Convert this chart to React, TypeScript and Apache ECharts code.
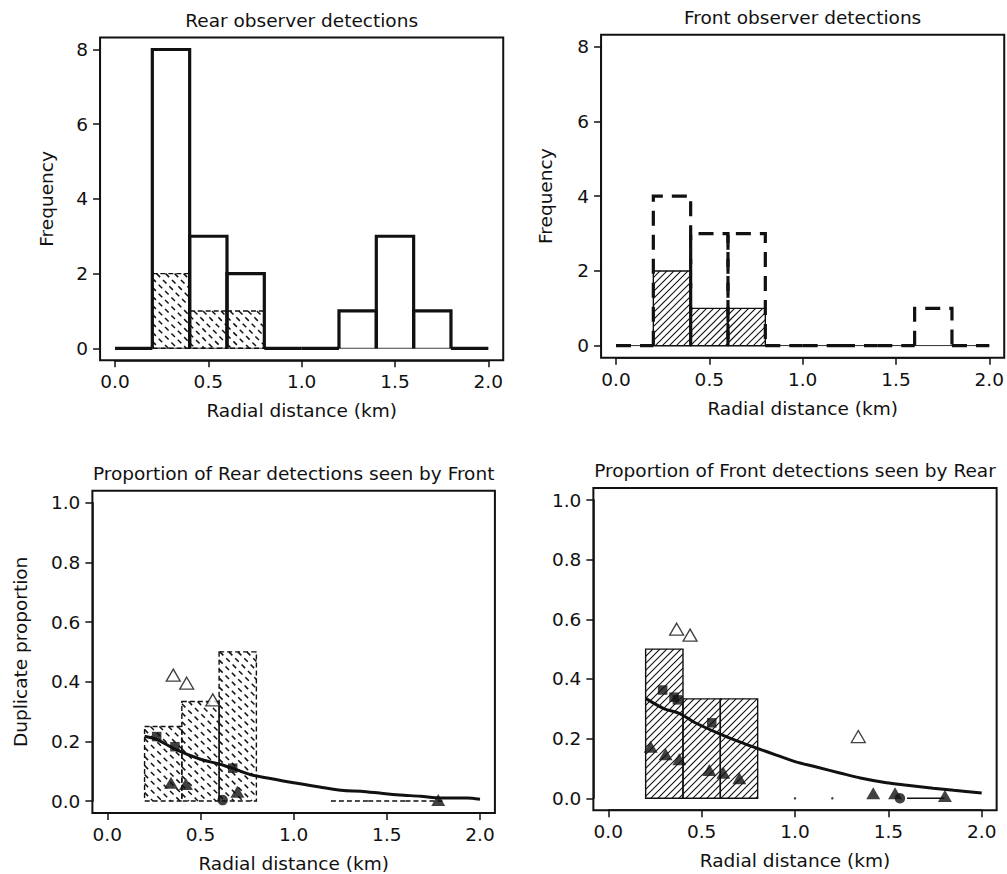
import React, { useEffect, useRef } from "react";
import * as echarts from "echarts";

// ---------------- data ----------------
const binEdges = [0, 0.2, 0.4, 0.6, 0.8, 1.0, 1.2, 1.4, 1.6, 1.8, 2.0];
const rearCounts = [0, 8, 3, 2, 0, 0, 1, 3, 1, 0];
const rearSeenByFront = [0, 2, 1, 1, 0, 0, 0, 0, 0, 0];
const frontCounts = [0, 4, 3, 3, 0, 0, 0, 0, 1, 0];
const frontSeenByRear = [0, 2, 1, 1, 0, 0, 0, 0, 0, 0];

// Proportion of Rear detections seen by Front (fitted curve + points)
const rearCurveX = [0.2, 0.27, 0.36, 0.5, 0.6, 0.68, 0.77, 0.86, 1.0, 1.14, 1.27, 1.36, 1.48, 1.57, 1.68, 1.79, 1.93, 2.0];
const rearCurveY = [0.217, 0.205, 0.175, 0.14, 0.124, 0.108, 0.088, 0.077, 0.061, 0.047, 0.035, 0.033, 0.025, 0.02, 0.016, 0.01, 0.01, 0.006];
const rearSquaresX = [0.265, 0.363, 0.673];
const rearSquaresY = [0.216, 0.182, 0.11];
const rearTrianglesX = [0.342, 0.422, 0.698, 1.776];
const rearTrianglesY = [0.061, 0.057, 0.031, 0.003];
const rearCirclesX = [0.619];
const rearCirclesY = [0.003];
const rearOpenTrianglesX = [0.354, 0.426, 0.566];
const rearOpenTrianglesY = [0.422, 0.395, 0.339];

// Proportion of Front detections seen by Rear
const frontCurveX = [0.2, 0.3, 0.38, 0.46, 0.6, 0.7, 0.8, 0.9, 1.0, 1.12, 1.24, 1.35, 1.49, 1.6, 1.74, 1.85, 2.0];
const frontCurveY = [0.335, 0.3, 0.285, 0.255, 0.215, 0.19, 0.167, 0.145, 0.123, 0.104, 0.085, 0.068, 0.052, 0.044, 0.034, 0.027, 0.018];
const frontSquaresX = [0.291, 0.352, 0.37, 0.554];
const frontSquaresY = [0.363, 0.339, 0.33, 0.253];
const frontTrianglesX = [0.227, 0.307, 0.38, 0.541, 0.616, 0.702, 1.419, 1.536, 1.803];
const frontTrianglesY = [0.173, 0.148, 0.131, 0.095, 0.086, 0.067, 0.017, 0.017, 0.008];
const frontCirclesX = [1.562];
const frontCirclesY = [0];
const frontOpenTrianglesX = [0.366, 0.438, 1.339];
const frontOpenTrianglesY = [0.567, 0.547, 0.207];
const frontEmptyDotsX = [1.0, 1.2];
const frontEmptyDotsY = [0, 0];

const titles = [
  "Rear observer detections",
  "Front observer detections",
  "Proportion of Rear detections seen by Front",
  "Proportion of Front detections seen by Rear",
];
const yNames = ["Frequency", "Frequency", "Duplicate proportion", ""];
const xName = "Radial distance (km)";

// ---------------- layout ----------------
const FONT = "DejaVu Sans";
const FS = 18.5;
const grids = [
  { left: 115, top: 49.5, width: 373.3, height: 298.8 },
  { left: 616, top: 46.7, width: 373.3, height: 299 },
  { left: 107.3, top: 502.7, width: 372.7, height: 298.3 },
  { left: 608.3, top: 500, width: 373.4, height: 298.3 },
];
const yLabelX = [46.7, 545, 20.7, 0];

const zip = (xs: number[], ys: number[]) => xs.map((x, i) => [x, ys[i]]);
const bins = (vals: number[]) => vals.map((v, i) => [binEdges[i], binEdges[i + 1], v]);
const ratioBins = (seen: number[], tot: number[]) =>
  tot.map((t, i) => (t > 0 ? [binEdges[i], binEdges[i + 1], seen[i] / t] : null)).filter((d) => d !== null);

function hatchSegments(xa: number, ya: number, xb: number, yb: number, s: number, dir: string) {
  const segs: number[][] = [];
  if (dir === "/") {
    const kmin = xa + ya, kmax = xb + yb;
    for (let k = Math.ceil(kmin / s) * s; k <= kmax; k += s) {
      const xs = Math.max(xa, k - yb), xe = Math.min(xb, k - ya);
      if (xe - xs > 0.5) segs.push([xs, k - xs, xe, k - xe]);
    }
  } else {
    const kmin = xa - yb, kmax = xb - ya;
    for (let k = Math.ceil(kmin / s) * s; k <= kmax; k += s) {
      const xs = Math.max(xa, k + ya), xe = Math.min(xb, k + yb);
      if (xe - xs > 0.5) segs.push([xs, xs - k, xe, xe - k]);
    }
  }
  return segs;
}

function outlineRender(dash: number[] | null) {
  return (params: any, api: any) => {
    const x0 = api.value(0), x1 = api.value(1), h = api.value(2);
    const a = api.coord([x0, 0]);
    const b = api.coord([x1, h]);
    const points =
      h > 0
        ? [[a[0], a[1]], [a[0], b[1]], [b[0], b[1]], [b[0], a[1]]]
        : [[a[0], a[1]], [b[0], a[1]]];
    const style: any = { stroke: "#111", lineWidth: 3.2, fill: "none", lineJoin: "miter" };
    if (dash) style.lineDash = dash;
    return { type: "polyline", shape: { points }, style };
  };
}

function hatchRender(dir: string, s: number, dashed: boolean) {
  return (params: any, api: any) => {
    const x0 = api.value(0), x1 = api.value(1), h = api.value(2);
    const a = api.coord([x0, 0]);
    const b = api.coord([x1, h]);
    const xa = a[0], xb = b[0], ya = b[1], yb = a[1];
    const border: any = { stroke: "#111", lineWidth: 1.4, fill: "none" };
    if (dashed) border.lineDash = [5, 3];
    if (!(h > 0)) {
      return { type: "line", shape: { x1: xa, y1: yb, x2: xb, y2: yb }, style: { ...border, lineWidth: 1.5 } };
    }
    const children: any[] = hatchSegments(xa, ya, xb, yb, s, dir).map((sg) => {
      const st: any = { stroke: "#111", lineWidth: dashed ? 1.5 : 1.1 };
      if (dashed) st.lineDash = [5, 4];
      return { type: "line", shape: { x1: sg[0], y1: sg[1], x2: sg[2], y2: sg[3] }, style: st };
    });
    children.push({ type: "rect", shape: { x: xa, y: ya, width: xb - xa, height: yb - ya }, style: border });
    return { type: "group", children };
  };
}

function scatter(idx: number, data: number[][], kind: string) {
  const base: any = {
    type: "scatter",
    xAxisIndex: idx,
    yAxisIndex: idx,
    data,
    z: 5,
    clip: false,
    itemStyle: { color: "#111" },
  };
  if (kind === "square") { base.symbol = "rect"; base.symbolSize = 9.5; }
  if (kind === "circle") { base.symbol = "circle"; base.symbolSize = 10.5; }
  if (kind === "tri") { base.symbol = "triangle"; base.symbolSize = [14, 12]; }
  if (kind === "open") {
    base.symbol = "triangle";
    base.symbolSize = [14, 12];
    base.itemStyle = { color: "#fff", borderColor: "#111", borderWidth: 1.3 };
  }
  if (kind === "dot") { base.symbol = "circle"; base.symbolSize = 2.5; }
  return base;
}

function buildOption() {
  const textStyle = { fontFamily: FONT, fontSize: FS, color: "#111" };
  const axisLine = { show: true, onZero: false, lineStyle: { color: "#111", width: 1.5 } };
  const xAxis = grids.map((g, i) => ({
    type: "value",
    gridIndex: i,
    min: 0,
    max: 2,
    interval: 0.5,
    offset: g.height * 0.04,
    axisLine,
    axisTick: { show: true, length: 7, lineStyle: { color: "#111", width: 1.5 } },
    axisLabel: { ...textStyle, margin: 12, formatter: (v: number) => v.toFixed(1) },
    splitLine: { show: false },
  }));
  const yAxis = grids.map((g, i) => ({
    type: "value",
    gridIndex: i,
    min: 0,
    max: i < 2 ? 8 : 1,
    interval: i < 2 ? 2 : 0.2,
    offset: g.width * 0.04,
    axisLine,
    axisTick: { show: true, length: 7, lineStyle: { color: "#111", width: 1.5 } },
    axisLabel: {
      ...textStyle,
      margin: 12,
      formatter: (v: number) => (i < 2 ? String(Math.round(v)) : v.toFixed(1)),
    },
    splitLine: { show: false },
  }));

  const baseline = (idx: number) => ({
    type: "line",
    xAxisIndex: idx,
    yAxisIndex: idx,
    data: [[binEdges[0], 0], [binEdges[binEdges.length - 1], 0]],
    showSymbol: false,
    lineStyle: { color: "#111", width: 1 },
    z: 1,
  });

  const rearRatio = ratioBins(rearSeenByFront, rearCounts);
  const frontRatio = ratioBins(frontSeenByRear, frontCounts);

  const series: any[] = [
    // Panel 1
    baseline(0),
    { type: "custom", xAxisIndex: 0, yAxisIndex: 0, data: bins(rearCounts), encode: { x: [0, 1], y: 2 }, renderItem: outlineRender(null), z: 3 },
    { type: "custom", xAxisIndex: 0, yAxisIndex: 0, data: bins(rearSeenByFront).filter((d) => d[2] > 0), encode: { x: [0, 1], y: 2 }, renderItem: hatchRender("\\", 9, true), z: 2 },
    // Panel 2
    baseline(1),
    { type: "custom", xAxisIndex: 1, yAxisIndex: 1, data: bins(frontSeenByRear).filter((d) => d[2] > 0), encode: { x: [0, 1], y: 2 }, renderItem: hatchRender("/", 7, false), z: 2 },
    { type: "custom", xAxisIndex: 1, yAxisIndex: 1, data: bins(frontCounts), encode: { x: [0, 1], y: 2 }, renderItem: outlineRender([15, 9]), z: 3 },
    // Panel 3
    { type: "custom", xAxisIndex: 2, yAxisIndex: 2, data: rearRatio, encode: { x: [0, 1], y: 2 }, renderItem: hatchRender("\\", 9, true), z: 2 },
    {
      type: "line", xAxisIndex: 2, yAxisIndex: 2, showSymbol: false, z: 3,
      data: [[binEdges[3], 0], [binEdges[3], rearSeenByFront[2] / rearCounts[2]]],
      lineStyle: { color: "#111", width: 1 },
    },
    {
      type: "line", xAxisIndex: 2, yAxisIndex: 2, showSymbol: false, smooth: 0.3, z: 4,
      data: zip(rearCurveX, rearCurveY), lineStyle: { color: "#111", width: 3 },
    },
    scatter(2, zip(rearSquaresX, rearSquaresY), "square"),
    scatter(2, zip(rearTrianglesX, rearTrianglesY), "tri"),
    scatter(2, zip(rearCirclesX, rearCirclesY), "circle"),
    scatter(2, zip(rearOpenTrianglesX, rearOpenTrianglesY), "open"),
    // Panel 4
    { type: "custom", xAxisIndex: 3, yAxisIndex: 3, data: frontRatio, encode: { x: [0, 1], y: 2 }, renderItem: hatchRender("/", 7, false), z: 2 },
    {
      type: "line", xAxisIndex: 3, yAxisIndex: 3, showSymbol: false, smooth: 0.3, z: 4,
      data: zip(frontCurveX, frontCurveY), lineStyle: { color: "#111", width: 3 },
    },
    scatter(3, zip(frontSquaresX, frontSquaresY), "square"),
    scatter(3, zip(frontTrianglesX, frontTrianglesY), "tri"),
    scatter(3, zip(frontCirclesX, frontCirclesY), "circle"),
    scatter(3, zip(frontOpenTrianglesX, frontOpenTrianglesY), "open"),
    scatter(3, zip(frontEmptyDotsX, frontEmptyDotsY), "dot"),
  ];

  const graphic: any[] = [];
  grids.forEach((g, i) => {
    const px = g.width * 0.04, py = g.height * 0.04;
    const fx = g.left - px, fy = g.top - py, fw = g.width + 2 * px, fh = g.height + 2 * py;
    graphic.push({
      type: "rect", z: 100, silent: true,
      shape: { x: fx, y: fy, width: fw, height: fh },
      style: { fill: "none", stroke: "#111", lineWidth: 2 },
    });
    graphic.push({
      type: "text", z: 100, silent: true, x: fx + fw / 2, y: fy - 17.5,
      style: { text: titles[i], fontFamily: FONT, fontSize: FS, fill: "#111", textAlign: "center", textVerticalAlign: "middle" },
    });
    graphic.push({
      type: "text", z: 100, silent: true, x: fx + fw / 2, y: fy + fh + 50.7,
      style: { text: xName, fontFamily: FONT, fontSize: FS, fill: "#111", textAlign: "center", textVerticalAlign: "middle" },
    });
    if (yNames[i]) {
      graphic.push({
        type: "text", z: 100, silent: true, x: yLabelX[i], y: g.top + g.height / 2, rotation: Math.PI / 2,
        style: { text: yNames[i], fontFamily: FONT, fontSize: FS, fill: "#111", textAlign: "center", textVerticalAlign: "middle" },
      });
    }
  });

  return {
    animation: false,
    backgroundColor: "#fff",
    grid: grids.map((g) => ({ ...g, containLabel: false })),
    xAxis,
    yAxis,
    series,
    graphic,
  };
}

export default function App() {
  const ref = useRef<HTMLDivElement>(null);
  useEffect(() => {
    if (!ref.current) return;
    const chart = echarts.init(ref.current, null, { renderer: "svg" });
    chart.setOption(buildOption() as any);
    return () => chart.dispose();
  }, []);
  return (
    <div
      ref={ref}
      style={{ position: "absolute", left: 0, top: 0, width: 1007, height: 874, background: "#fff" }}
    />
  );
}
